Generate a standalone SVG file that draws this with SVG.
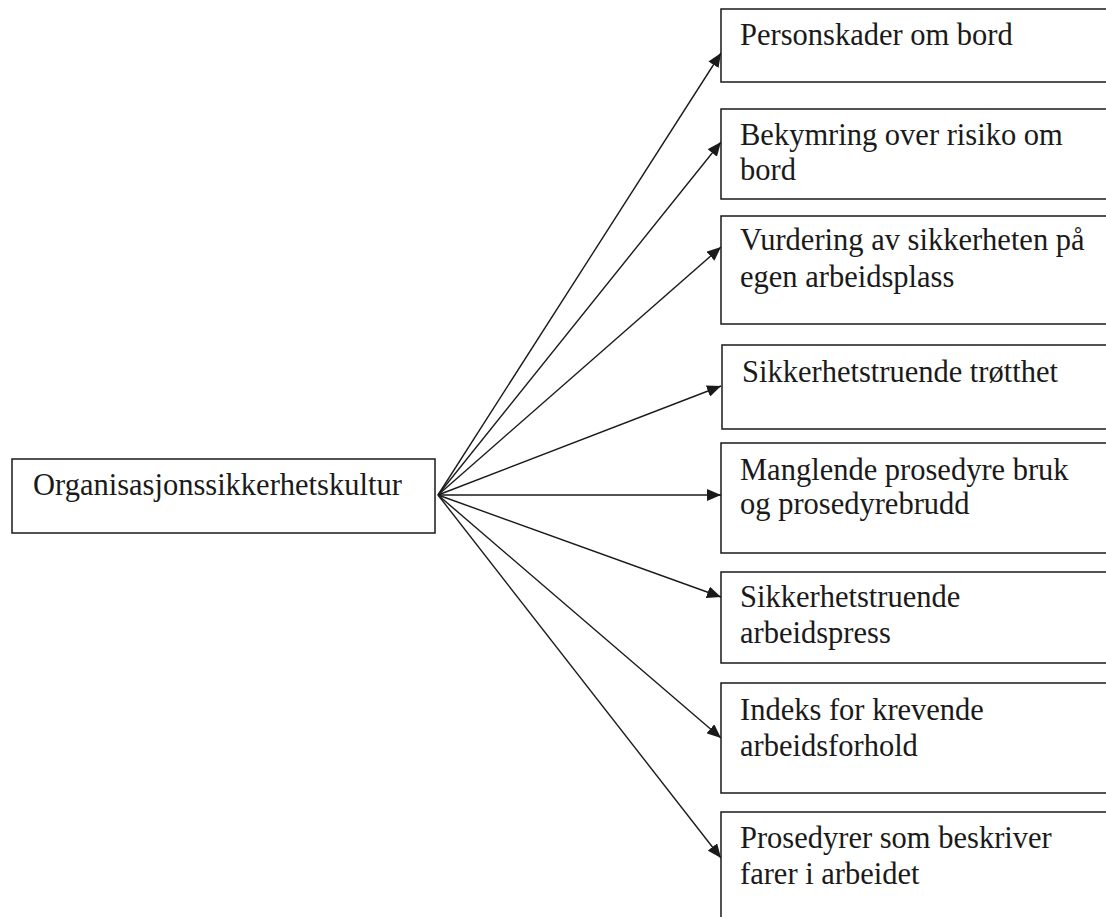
<svg xmlns="http://www.w3.org/2000/svg" width="1106" height="917" viewBox="0 0 1106 917">
<style>
.box{fill:#fff;stroke:#1a1a1a;stroke-width:1.5}
.t{font-family:"Liberation Serif","Times New Roman",serif;font-size:30.5px;fill:#1a1a1a}
.c{stroke:#1a1a1a;stroke-width:1.4;fill:none;marker-end:url(#ah)}
</style>
<defs>
<marker id="ah" markerUnits="userSpaceOnUse" markerWidth="14" markerHeight="12" refX="14" refY="6" orient="auto">
<path d="M0,0 L14,6 L0,12 Z" fill="#1a1a1a"/>
</marker>
</defs>
<rect width="1106" height="917" fill="#fff"/>
<g id="connectors">
<line class="c" x1="438" y1="495" x2="721" y2="53"/>
<line class="c" x1="438" y1="495" x2="721" y2="142"/>
<line class="c" x1="438" y1="495" x2="721" y2="247"/>
<line class="c" x1="438" y1="495" x2="721" y2="386"/>
<line class="c" x1="438" y1="495" x2="721" y2="495"/>
<line class="c" x1="438" y1="495" x2="721" y2="597"/>
<line class="c" x1="438" y1="495" x2="721" y2="738"/>
<line class="c" x1="438" y1="495" x2="721" y2="858"/>
</g>
<g id="source">
<rect class="box" x="12" y="459" width="423" height="74"/>
<text class="t" x="33" y="495">Organisasjonssikkerhetskultur</text>
</g>
<g id="n1">
<path class="box" d="M1106,9 H721 V82 H1106"/>
<text class="t" x="740" y="45">Personskader om bord</text>
</g>
<g id="n2">
<path class="box" d="M1106,109 H721 V199 H1106"/>
<text class="t" x="740" y="145">Bekymring over risiko om</text>
<text class="t" x="740" y="180">bord</text>
</g>
<g id="n3">
<path class="box" d="M1106,216 H721 V324 H1106"/>
<text class="t" x="740" y="250">Vurdering av sikkerheten på</text>
<text class="t" x="740" y="287">egen arbeidsplass</text>
</g>
<g id="n4">
<path class="box" d="M1106,345 H722 V429 H1106"/>
<text class="t" x="742" y="382">Sikkerhetstruende trøtthet</text>
</g>
<g id="n5">
<path class="box" d="M1106,443 H721 V553 H1106"/>
<text class="t" x="740" y="480">Manglende prosedyre bruk</text>
<text class="t" x="740" y="514">og prosedyrebrudd</text>
</g>
<g id="n6">
<path class="box" d="M1106,572 H721 V663 H1106"/>
<text class="t" x="740" y="607">Sikkerhetstruende</text>
<text class="t" x="740" y="643">arbeidspress</text>
</g>
<g id="n7">
<path class="box" d="M1106,683 H721 V793 H1106"/>
<text class="t" x="740" y="720">Indeks for krevende</text>
<text class="t" x="740" y="756">arbeidsforhold</text>
</g>
<g id="n8">
<path class="box" d="M1106,812 H721 V920"/>
<text class="t" x="740" y="848">Prosedyrer som beskriver</text>
<text class="t" x="740" y="884">farer i arbeidet</text>
</g>
</svg>
